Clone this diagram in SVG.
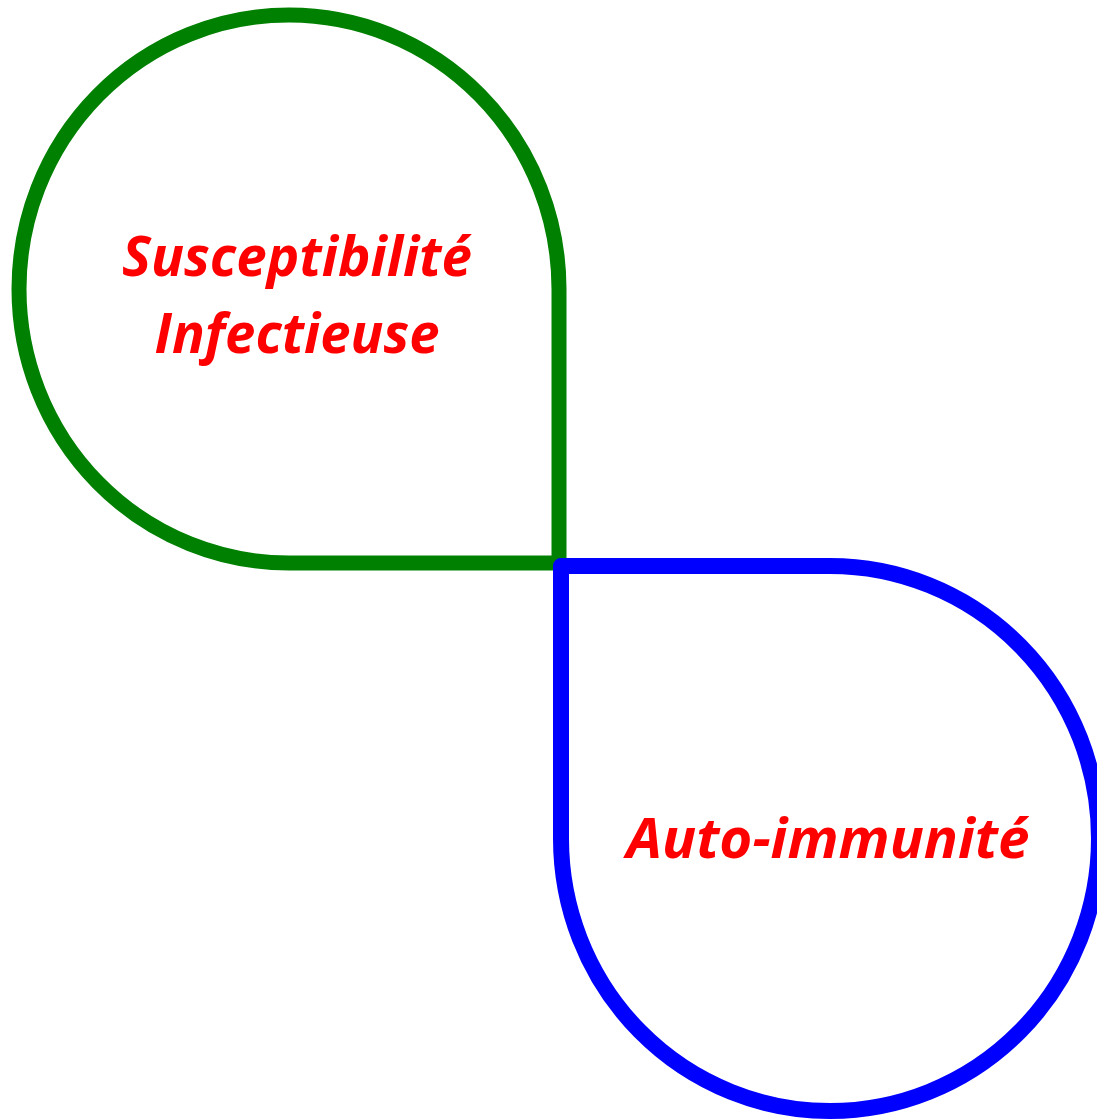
<svg xmlns="http://www.w3.org/2000/svg" width="1097" height="1119" viewBox="0 0 1097 1119">
<style>
.lbl{font-family:"Open Sans","Liberation Sans",sans-serif;font-weight:bold;font-style:italic;font-size:56px;fill:#ff0000;text-anchor:middle}
.shape{fill:#ffffff}
</style>
<rect width="1097" height="1119" fill="#ffffff"/>
<g id="node-infection">
<path class="shape" d="M 559 289 L 559 563 L 289 563 A 270 274 0 1 1 559 289 Z" stroke="#008000" stroke-width="15"/>
<text class="lbl" x="297" y="276" textLength="350" lengthAdjust="spacingAndGlyphs">Susceptibilité</text>
<text class="lbl" x="297" y="353" textLength="285" lengthAdjust="spacingAndGlyphs">Infectieuse</text>
</g>
<g id="node-autoimmunity">
<path class="shape" d="M 561 566 L 830 566 A 269 272.5 0 1 1 561 838.5 Z" stroke="#0000ff" stroke-width="16" stroke-linejoin="round"/>
<text class="lbl" x="828" y="858" textLength="403" lengthAdjust="spacingAndGlyphs">Auto-immunité</text>
</g>
<g id="connectors"></g>
</svg>
